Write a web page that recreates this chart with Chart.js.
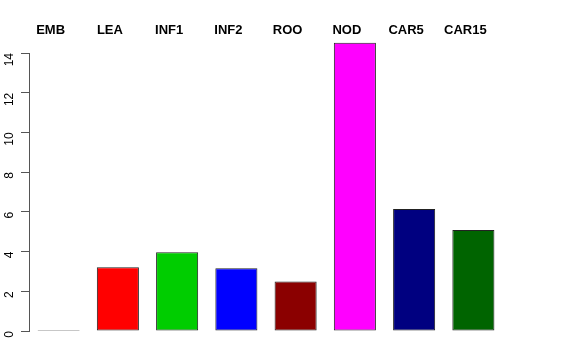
<!DOCTYPE html>
<html>
<head>
<meta charset="utf-8">
<script src="https://cdn.jsdelivr.net/npm/chart.js@4"></script>
<style>
  html, body { margin: 0; padding: 0; background: #fff; }
  #wrap { width: 576px; height: 360px; }
</style>
</head>
<body>
<div id="wrap"><canvas id="barChart" width="576" height="360"></canvas></div>
<script>
// categories and values
const tissues = ["EMB", "LEA", "INF1", "INF2", "ROO", "NOD", "CAR5", "CAR15"];
const expression = [0, 3.21, 3.97, 3.16, 2.49, 14.52, 6.15, 5.09];
const barColors = ["#000000", "#ff0000", "#00cd00", "#0000ff", "#8b0000", "#ff00ff", "#000080", "#006400"];
const yTicks = [0, 2, 4, 6, 8, 10, 12, 14];

// names printed along the top, slightly left of each bar centre
const topLabels = {
  id: 'topLabels',
  afterDraw(chart) {
    const ctx = chart.ctx;
    const x = chart.scales.x;
    ctx.save();
    ctx.font = 'bold 13px "Liberation Sans", Arial, sans-serif';
    ctx.fillStyle = '#000';
    ctx.textAlign = 'center';
    ctx.textBaseline = 'alphabetic';
    tissues.forEach((name, i) => {
      ctx.fillText(name, x.getPixelForValue(i) - 8, 34);
    });
    ctx.restore();
  }
};

const ctx = document.getElementById('barChart').getContext('2d');
const barChart = new Chart(ctx, {
  type: 'bar',
  data: {
    labels: tissues,
    datasets: [{
      data: expression,
      backgroundColor: barColors,
      borderColor: '#222',
      borderWidth: 1,
      borderSkipped: false,
      barPercentage: 0.71,
      categoryPercentage: 1,
      minBarLength: 1,
      clip: false
    }]
  },
  options: {
    responsive: false,
    animation: false,
    layout: { padding: { top: 53, bottom: 29, left: 0, right: 73 } },
    plugins: {
      legend: { display: false },
      tooltip: { enabled: false }
    },
    scales: {
      x: {
        display: false,
        offset: true
      },
      y: {
        min: 0,
        max: 14,
        afterFit(scale) { scale.width = 29; },
        afterBuildTicks(scale) { scale.ticks = yTicks.map(v => ({ value: v })); },
        border: { display: true, color: '#555', width: 1 },
        grid: { drawOnChartArea: false, tickLength: 8, color: '#555' },
        ticks: {
          minRotation: 90,
          maxRotation: 90,
          padding: 11,
          color: '#000',
          font: { family: '"Liberation Sans", Arial, sans-serif', size: 12 }
        }
      }
    }
  },
  plugins: [topLabels]
});
</script>
</body>
</html>
